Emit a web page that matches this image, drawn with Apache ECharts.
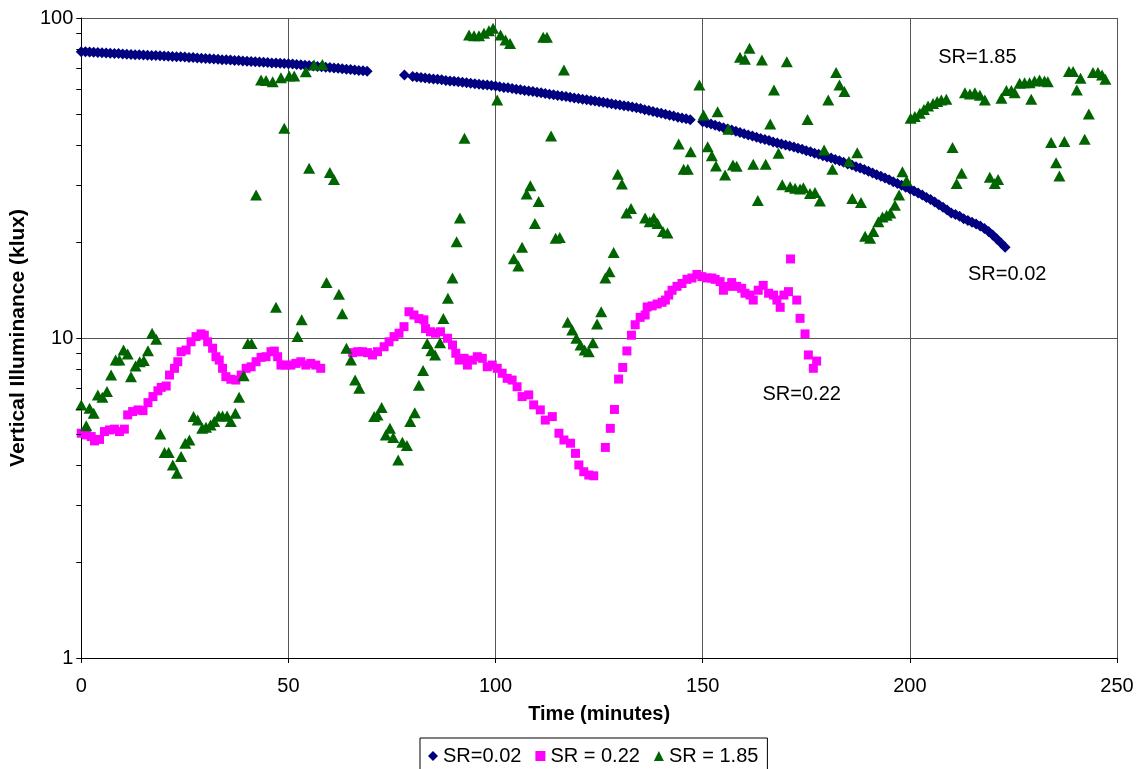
<!DOCTYPE html>
<html>
<head>
<meta charset="utf-8">
<script src="https://cdn.jsdelivr.net/npm/echarts@6/dist/echarts.min.js"></script>
<style>
  html, body { margin: 0; padding: 0; background: #fff; }
  #chart { width: 1139px; height: 769px; }
</style>
</head>
<body>
<div id="chart"></div>
<script>
// ---------- DATA ----------
const seriesNames = ['SR=0.02', 'SR = 0.22', 'SR = 1.85'];
const xTicks = { min: 0, max: 250, step: 50 };
const yTicks = { min: 1, max: 100 };
const yMinorTickValues = [2, 3, 4, 5, 6, 7, 8, 9, 20, 30, 40, 50, 60, 70, 80, 90];

// SR=0.02 : one reading per minute, in segments (start minute + values)
const sr002Seg1Start = 0;
const sr002Seg1 = [78.5,78.4,78.3,78.2,78.0,77.9,77.8,77.6,77.5,77.4,77.2,77.1,76.9,76.8,76.7,76.6,76.5,76.4,76.3,76.2,
  76.1,75.9,75.8,75.7,75.6,75.5,75.3,75.2,75.0,74.9,74.7,74.6,74.4,74.3,74.1,74.0,73.9,73.7,73.6,73.4,
  73.3,73.1,73.0,72.8,72.7,72.6,72.4,72.3,72.2,72.1,72.0,71.8,71.6,71.4,71.2,71.0,70.8,70.6,70.4,70.2,
  70.0,69.8,69.6,69.4,69.2,69.0,68.8,68.6,68.4,68.2];
const sr002Seg2Start = 78;
const sr002Seg2 = [66.3];
const sr002Seg3Start = 80;
const sr002Seg3 = [65.6,65.4,65.2,64.9,64.7,64.5,64.3,64.1,63.8,63.6,63.4,63.2,63.0,62.7,62.5,62.3,62.1,61.9,61.7,61.5,
  61.3,61.0,60.7,60.5,60.2,59.9,59.7,59.4,59.1,58.9,58.6,58.4,58.1,57.8,57.6,57.3,57.1,56.8,56.5,56.2,
  56.0,55.7,55.5,55.2,55.0,54.7,54.5,54.2,54.0,53.7,53.5,53.2,53.0,52.7,52.4,52.1,51.7,51.4,51.0,50.7,
  50.4,50.0,49.7,49.4,49.0,48.7,48.4,48.1];
const sr002Seg4Start = 150;
const sr002Seg4 = [47.4,47.0,46.6,46.2,45.8,45.4,45.0,44.7,44.3,43.9,43.5,43.1,42.8,42.4,42.0,41.7,41.4,41.0,40.7,40.4,
  40.1,39.8,39.5,39.2,38.9,38.5,38.2,37.8,37.5,37.1,36.8,36.5,36.1,35.8,35.4,35.0,34.7,34.3,34.0,33.6,
  33.2,32.8,32.4,32.0,31.6,31.2,30.8,30.4,30.0,29.6,29.2,28.8,28.4,28.0,27.5,27.1,26.6,26.1,25.6,25.1,
  24.6,24.3,24.0,23.6,23.3,23.0,22.7,22.4,22.0,21.5,21.0,20.4,19.8,19.2];

// SR = 0.22 : [minute, klux]
const sr022Points = [
  [0,5.04],[1.2,4.98],[2.4,4.92],[3.2,4.77],[4.4,4.82],[5.6,5.10],[6.8,5.16],[8.0,5.19],[9.2,5.10],[10.4,5.19],
  [11.2,5.75],[12.4,5.89],[13.7,5.96],[14.9,5.93],[16.1,6.28],[17.3,6.56],[18.5,6.84],[19.3,7.01],[20.5,7.08],[21.3,7.66],
  [22.5,8.04],[23.3,8.43],[24.1,9.06],[25.3,9.17],[26.5,9.73],[27.7,10.1],[28.9,10.3],[29.7,10.2],[30.5,9.73],[31.7,9.29],
  [32.5,8.74],[33.3,8.53],[34.1,8.04],[34.9,7.57],[36.1,7.43],[37.3,7.39],[38.6,7.66],[39.8,8.04],[41.0,8.13],[42.2,8.43],
  [43.4,8.70],[44.6,8.74],[45.8,9.06],[46.6,9.10],[47.4,8.74],[48.2,8.23],[49.4,8.23],[50.6,8.23],[51.8,8.33],[53.0,8.43],
  [54.2,8.23],[55.4,8.33],[56.6,8.23],[57.8,8.04],
  [65.5,9.0],[66.7,9.06],[67.9,9.06],[69.1,9.0],[70.3,8.85],[71.5,9.06],[73.1,9.39],[74.3,9.73],[75.5,10.1],[76.7,10.35],
  [77.9,10.85],[79.1,12.08],[80.3,11.8],[81.5,11.5],[82.7,11.4],[83.1,10.7],[84.3,10.46],[85.5,10.35],[86.7,10.46],[88.4,9.98],
  [89.6,9.51],[90.4,8.96],[91.2,8.53],[92.4,8.64],[93.2,8.23],[94.4,8.53],[95.6,8.74],[96.8,8.64],[98.0,8.13],[99.2,8.23],
  [100.4,8.04],[101.6,7.76],[102.8,7.48],[104.0,7.39],[105.2,7.04],[106.4,6.56],[108.0,6.64],[109.2,6.18],[110.8,5.96],[112.0,5.54],
  [113.7,5.68],[115.3,5.04],[116.5,4.80],[118.1,4.69],[119.3,4.36],[120.1,4.01],[121.3,3.82],[122.5,3.73],[123.7,3.71],
  [126.5,4.55],[127.7,5.22],[128.7,5.98],[129.7,7.44],[130.7,8.09],[131.7,9.11],[132.8,10.2],[133.7,11.0],[134.9,11.6],[136.1,11.8],
  [136.6,12.5],[137.8,12.6],[139.0,12.77],[140.2,12.93],[141.0,13.14],[141.8,13.62],[142.6,14.1],[143.8,14.5],[145.0,14.8],[146.2,15.25],
  [147.4,15.4],[148.6,15.8],[149.8,15.55],[151.0,15.4],[152.2,15.4],[153.0,15.25],[154.2,15.0],[155.0,14.1],[156.2,14.5],[157.0,14.9],
  [158.2,14.5],[159.4,14.3],[160.2,13.8],[161.4,13.62],[162.2,13.14],[163.4,14.1],[164.6,14.6],[165.9,13.8],[167.1,13.62],[167.9,13.14],
  [168.7,12.47],[169.6,13.62],[170.7,13.96],[171.2,17.66],[172.7,13.14],[173.5,11.52],[174.7,10.3],[175.5,8.85],[176.7,8.04],[177.5,8.47]
];

// SR = 1.85 : [minute, klux]
const sr185Points = [
  [0,6.17],[1.2,5.32],[2.0,6.03],[3.0,5.82],[4.0,6.63],[5.1,6.53],[6.2,6.80],[7.2,7.66],[8.3,8.53],[9.2,8.53],
  [10.2,9.17],[11.2,8.91],[12.0,7.57],[13.1,8.18],[14.1,8.43],[15.1,8.51],[16.1,9.12],[17.1,10.35],[18.1,9.91],[19.1,5.01],
  [20.1,4.39],[21.1,4.39],[22.1,4.01],[23.1,3.78],[24.1,4.26],[25.1,4.69],[26.1,4.80],[27.1,5.68],[28.1,5.54],[29.2,5.22],
  [30.1,5.26],[31.2,5.35],[32.1,5.48],[33.2,5.70],[34.1,5.70],[35.2,5.70],[36.1,5.48],[37.2,5.82],[38.1,6.53],[39.2,7.62],
  [40.2,9.62],[41.1,9.62],[42.2,28.0],[43.4,64.0],[44.6,63.8],[46.2,63.2],[47.0,12.47],[48.2,65.1],[49.0,45.2],[50.2,65.9],
  [51.4,65.9],[52.2,10.1],[53.2,11.4],[54.2,67.9],[55.0,33.9],[56.2,71.3],[58.2,71.6],[59.2,14.9],[60.0,32.9],[61.0,31.3],
  [62.2,13.7],[63.0,11.9],[64.0,9.29],[65.1,8.53],[66.1,7.39],[67.1,6.96],[70.7,5.68],[71.5,5.75],[72.5,6.07],[73.5,4.98],
  [74.5,5.22],[75.3,4.89],[76.5,4.16],[77.5,4.72],[78.6,4.61],[79.4,5.48],[80.5,5.84],[81.5,7.12],[82.5,7.91],[83.5,9.62],
  [84.5,9.12],[85.4,8.85],[86.6,9.67],[87.4,11.5],[88.5,13.3],[89.6,15.4],[90.6,20.0],[91.4,23.7],[92.5,42.1],[93.6,88.5],
  [94.8,88.0],[96.0,88.0],[97.2,89.6],[98.4,91.3],[99.4,92.9],[100.4,55.4],[101.2,88.5],[102.4,85.3],[103.5,83.3],[104.4,17.7],
  [105.5,16.8],[106.4,19.2],[107.5,28.2],[108.4,29.9],[109.5,22.8],[110.4,26.7],[111.5,87.0],[112.4,87.0],[113.4,42.8],[114.5,20.5],
  [115.5,20.6],[116.5,68.8],[117.4,11.2],[118.5,10.6],[119.5,9.98],[120.5,9.51],[121.5,9.17],[122.5,9.06],[123.5,9.67],[124.5,11.06],
  [125.5,12.08],[126.5,15.4],[127.5,16.1],[128.5,18.5],[129.5,32.5],[130.5,30.3],[131.6,24.6],[132.7,25.4],[136.1,23.7],[137.2,23.1],
  [138.2,23.7],[139.1,22.8],[140.4,21.5],[141.5,21.3],[144.2,40.4],[145.4,33.7],[146.4,33.7],[147.1,38.2],[149.2,61.7],[150.2,49.8],
  [151.2,39.6],[152.2,37.1],[153.2,34.5],[153.6,50.9],[155.4,32.3],[156.2,44.9],[157.3,34.7],[158.2,34.4],[159.0,75.4],[160.2,74.3],
  [161.3,80.4],[162.2,34.9],[163.3,26.9],[164.3,73.9],[165.2,34.9],[166.3,46.6],[167.2,59.6],[168.3,37.8],[169.2,30.1],[170.3,73.0],
  [171.1,29.7],[172.3,29.4],[173.5,29.2],[174.3,29.5],[175.3,48.2],[175.9,28.3],[177.1,28.5],[178.3,26.8],[179.3,38.7],[180.3,55.4],
  [181.3,33.7],[182.2,67.5],[183.0,61.7],[184.2,58.9],[185.3,35.6],[186.1,27.3],[187.3,37.9],[188.2,26.5],[189.2,20.8],[190.4,20.5],
  [191.2,21.5],[192.4,23.1],[193.4,23.9],[194.4,24.2],[195.3,24.6],[196.4,26.0],[197.4,28.0],[198.2,33.1],[199.2,31.0],[200.2,48.6],
  [201.2,49.2],[202.4,50.4],[203.4,51.8],[204.4,53.1],[205.6,54.1],[206.6,54.8],[207.6,55.4],[208.8,55.7],[210.3,39.4],[211.3,30.4],
  [212.5,32.7],[213.3,58.4],[214.5,57.9],[215.7,58.4],[216.9,57.4],[218.1,55.4],[219.3,31.8],[220.5,30.4],[221.3,31.3],[222.1,56.1],
  [223.3,59.3],[224.5,59.3],[225.3,58.4],[226.5,62.5],[227.7,62.8],[228.9,62.8],[229.3,55.7],[230.1,63.6],[231.3,64.0],[232.5,63.6],
  [233.3,63.2],[234.1,40.8],[235.3,35.3],[236.1,32.1],[237.3,41.1],[238.4,68.0],[239.4,68.0],[240.3,59.6],[241.2,64.8],[242.2,41.8],
  [243.2,50.1],[244.2,67.5],[245.4,67.5],[246.4,66.4],[247.2,64.3]
];

// In-plot annotations: [minute, klux, text]
const annotations = [
  [216.3, 75.3, 'SR=1.85'],
  [223.5, 15.85, 'SR=0.02'],
  [173.9, 6.68, 'SR=0.22']
];

// ---------- BUILD ----------
function segPoints(start, vals) { return vals.map((v, i) => [start + i, v]); }
const sr002Points = [].concat(
  segPoints(sr002Seg1Start, sr002Seg1),
  segPoints(sr002Seg2Start, sr002Seg2),
  segPoints(sr002Seg3Start, sr002Seg3),
  segPoints(sr002Seg4Start, sr002Seg4)
);

const FONT = '"Liberation Sans", Arial, Helvetica, sans-serif';
const chart = echarts.init(document.getElementById('chart'), null, { renderer: 'canvas' });

chart.setOption({
  animation: false,
  backgroundColor: '#ffffff',
  textStyle: { fontFamily: FONT, color: '#000' },
  grid: { left: 80, right: 22, top: 18, bottom: 111, containLabel: false },
  legend: {
    left: 420, top: 738,
    padding: [8, 9, 8, 8],
    itemGap: 14, itemWidth: 10, itemHeight: 10,
    borderColor: '#000', borderWidth: 1,
    textStyle: { fontSize: 20, color: '#000', fontFamily: FONT },
    data: [
      { name: seriesNames[0], icon: 'diamond' },
      { name: seriesNames[1], icon: 'rect' },
      { name: seriesNames[2], icon: 'triangle' }
    ]
  },
  xAxis: {
    type: 'value', min: xTicks.min, max: xTicks.max, interval: xTicks.step,
    name: 'Time (minutes)', nameLocation: 'middle', nameGap: 46,
    nameTextStyle: { fontSize: 20, fontWeight: 'bold', color: '#000', fontFamily: FONT },
    axisLine: { show: true, onZero: false, lineStyle: { color: '#000', width: 1 } },
    axisTick: { show: true, length: 5, lineStyle: { color: '#000' } },
    axisLabel: { fontSize: 20, color: '#000', margin: 18, fontFamily: FONT },
    splitLine: { show: true, lineStyle: { color: '#555', width: 1 } }
  },
  yAxis: {
    type: 'log', logBase: 10, min: yTicks.min, max: yTicks.max,
    name: 'Vertical Illuminance (klux)', nameLocation: 'middle', nameGap: 48,
    nameTextStyle: { fontSize: 21, fontWeight: 'bold', color: '#000', fontFamily: FONT },
    axisLine: { show: true, onZero: false, lineStyle: { color: '#000', width: 1 } },
    axisTick: { show: true, length: 5, lineStyle: { color: '#000' } },
    minorTick: { show: false },
    axisLabel: { fontSize: 20, color: '#000', margin: 8, fontFamily: FONT },
    splitLine: { show: true, lineStyle: { color: '#555', width: 1 } }
  },
  series: [
    {
      name: 'minorTicks', type: 'custom', silent: true, clip: false, z: 5,
      data: yMinorTickValues.map(v => [xTicks.min, v]),
      renderItem: function (params, api) {
        const p = api.coord([api.value(0), api.value(1)]);
        const y = Math.round(p[1]) + 0.5;
        return { type: 'line', shape: { x1: p[0] - 5, y1: y, x2: p[0], y2: y },
                 style: { stroke: '#000', lineWidth: 1 } };
      }
    },
    {
      name: seriesNames[0], type: 'scatter', symbol: 'diamond', symbolSize: 11,
      itemStyle: { color: '#000080', opacity: 1 }, data: sr002Points
    },
    {
      name: seriesNames[1], type: 'scatter', symbol: 'rect', symbolSize: 9,
      itemStyle: { color: '#ff00ff', opacity: 1 }, data: sr022Points
    },
    {
      name: seriesNames[2], type: 'scatter', symbol: 'triangle', symbolSize: [12, 11],
      itemStyle: { color: '#006400', opacity: 1 }, data: sr185Points
    },
    {
      name: 'annotations', type: 'scatter', silent: true, symbolSize: 0, z: 10,
      itemStyle: { opacity: 1 },
      data: annotations.map(a => ({ value: [a[0], a[1]], label: { formatter: a[2] } })),
      label: { show: true, position: 'inside', fontSize: 20, color: '#000', opacity: 1, fontFamily: FONT }
    }
  ]
});
</script>
</body>
</html>
